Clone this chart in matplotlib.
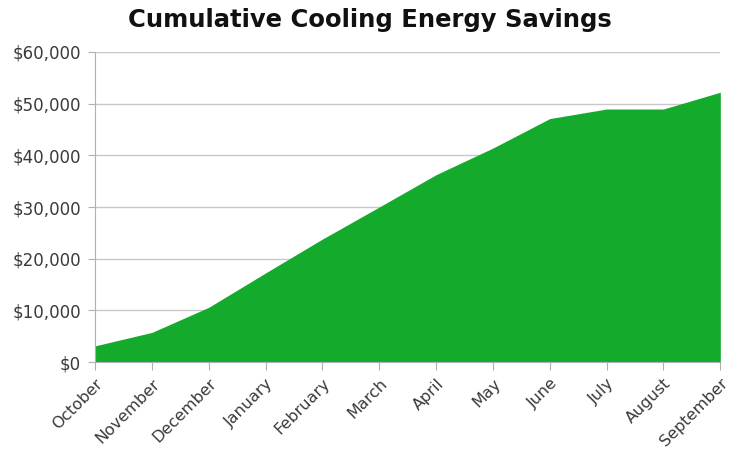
import matplotlib
matplotlib.use("Agg")
import matplotlib.pyplot as plt
from matplotlib.ticker import FuncFormatter

months = ["October", "November", "December", "January", "February", "March",
          "April", "May", "June", "July", "August", "September"]
savings = [3150, 5750, 10600, 17250, 23800, 30000,
           36250, 41400, 47100, 48950, 48950, 52200]
y_ticks = [0, 10000, 20000, 30000, 40000, 50000, 60000]

fig = plt.figure(figsize=(7.4, 4.51), dpi=100)
ax = fig.add_axes([0.1284, 0.197, 0.845, 0.688])

x = list(range(len(months)))
ax.fill_between(x, 0, savings, color="#14aa2c", linewidth=0, zorder=2)

ax.set_xlim(0, len(months) - 1)
ax.set_ylim(0, 60000)
ax.set_yticks(y_ticks)
ax.yaxis.set_major_formatter(FuncFormatter(lambda v, p: f"${int(v):,}"))
ax.set_xticks(x)
ax.set_xticklabels(months, rotation=45, ha="right", rotation_mode="anchor")

ax.grid(axis="y", color="#c8c8c8", linewidth=1, zorder=1)
for s in ["top", "right"]:
    ax.spines[s].set_visible(False)
for s in ["left", "bottom"]:
    ax.spines[s].set_color("#b0b0b0")
ax.tick_params(axis="y", colors="#b0b0b0", labelcolor="#3a3a3a", labelsize=12, length=5, pad=5)
ax.tick_params(axis="x", colors="#b0b0b0", labelcolor="#3a3a3a", labelsize=11.5, length=6, pad=4)

fig.suptitle("Cumulative Cooling Energy Savings", x=0.5, y=0.982, fontsize=17.5,
             fontweight="bold", color="#111111")

fig.savefig("out.png", dpi=100)
